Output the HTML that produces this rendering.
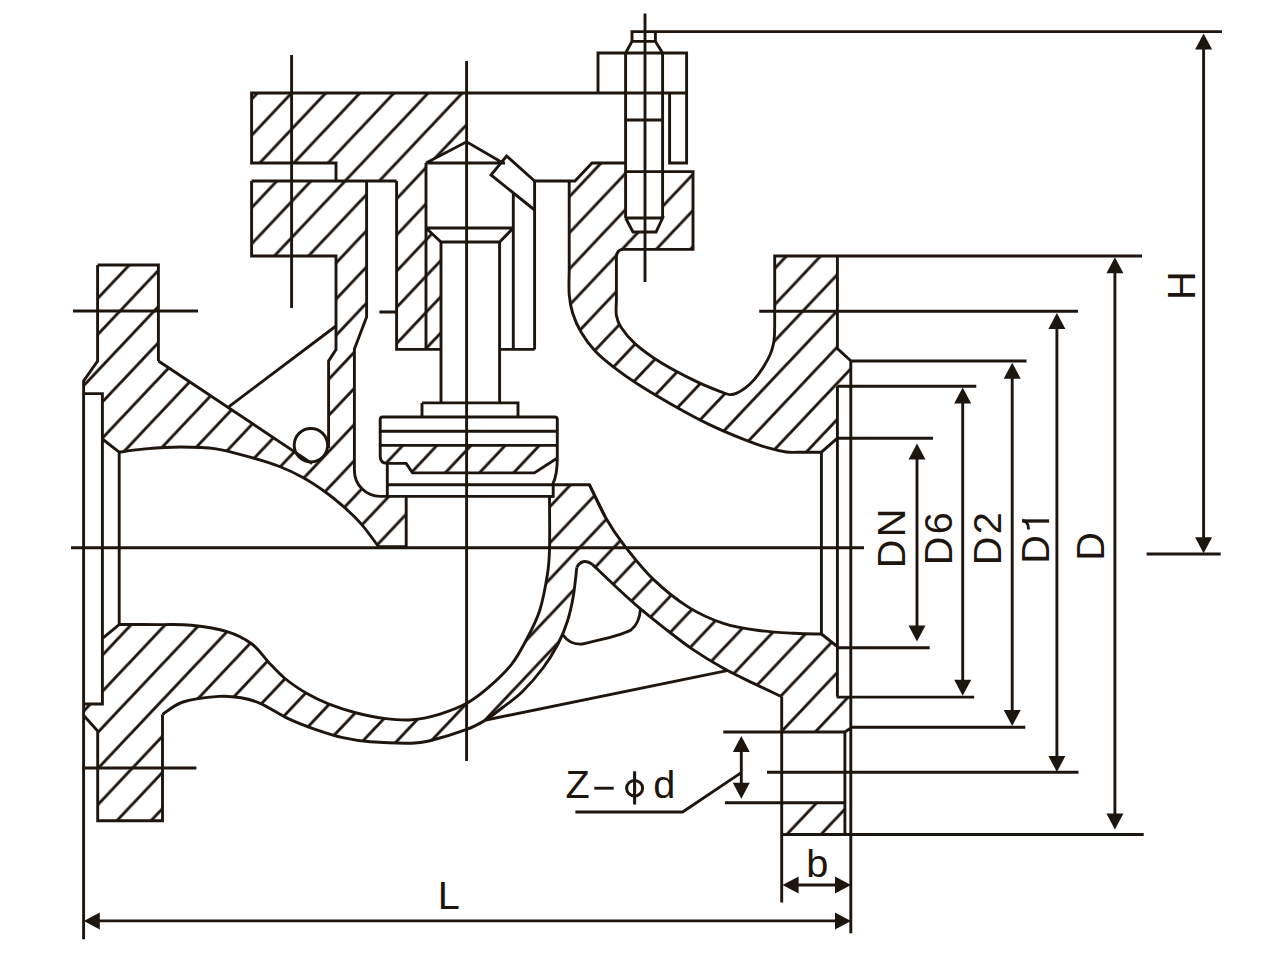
<!DOCTYPE html>
<html><head><meta charset="utf-8">
<style>
html,body{margin:0;padding:0;background:#fff;width:1271px;height:975px;overflow:hidden}
svg{display:block}
text{font-family:"Liberation Sans",sans-serif;fill:#1f150f}
</style></head><body>
<svg width="1271" height="975" viewBox="0 0 1271 975">
<defs>
<pattern id="hA" patternUnits="userSpaceOnUse" width="35.115" height="35.115" patternTransform="translate(3.837,0) rotate(-1.650)">
<path d="M-6,6 L6,-6 M-6,41.115 L41.115,-6 M29.115,41.115 L41.115,29.115" stroke="#1f150f" stroke-width="2.9" fill="none"/></pattern>
<pattern id="hB" patternUnits="userSpaceOnUse" width="35.115" height="35.115" patternTransform="translate(3.837,0) rotate(-1.650)">
<path d="M-6,6 L6,-6 M-6,41.115 L41.115,-6 M29.115,41.115 L41.115,29.115" stroke="#1f150f" stroke-width="2.9" fill="none"/></pattern>
<pattern id="hC" patternUnits="userSpaceOnUse" width="35.115" height="35.115" patternTransform="translate(3.837,0) rotate(-1.650)">
<path d="M-6,6 L6,-6 M-6,41.115 L41.115,-6 M29.115,41.115 L41.115,29.115" stroke="#1f150f" stroke-width="2.9" fill="none"/></pattern>
<pattern id="hD" patternUnits="userSpaceOnUse" width="35.115" height="35.115" patternTransform="translate(3.837,0) rotate(-1.650)">
<path d="M-6,6 L6,-6 M-6,41.115 L41.115,-6 M29.115,41.115 L41.115,29.115" stroke="#1f150f" stroke-width="2.9" fill="none"/></pattern>
<pattern id="hE" patternUnits="userSpaceOnUse" width="35.115" height="35.115" patternTransform="translate(3.837,0) rotate(-1.650)">
<path d="M-6,6 L6,-6 M-6,41.115 L41.115,-6 M29.115,41.115 L41.115,29.115" stroke="#1f150f" stroke-width="2.9" fill="none"/></pattern>
</defs>
<g stroke="none">
<path fill="url(#hA)" d="M251.6,93 L466.6,93 L466.6,141.8 L426,163 L426,228 L441,242 L441,349.4 L396.5,349.4 L396.5,181 L336,181 L336,163 L251.6,163 Z"/>
<path fill="url(#hB)" d="M251.6,181 L366.6,181 L366.6,317 L354.4,349 L354.4,470.4 A26,26 0 0 0 380.4,496.4 L406.2,496.4 L406.2,546.8 L378.6,546.8 C375.8,543.1 367.6,531.4 362.0,524.9 C356.4,518.4 350.9,513.2 344.7,507.7 C338.5,502.2 332.0,496.7 325.0,491.7 C318.0,486.7 310.5,481.7 302.9,477.5 C295.3,473.3 288.3,469.9 279.5,466.5 C270.7,463.1 260.6,460.1 250.0,457.2 C239.4,454.3 227.7,450.6 216.2,448.9 C204.7,447.2 192.6,447.0 180.8,447.0 C169.0,447.0 155.7,448.0 145.4,448.9 C135.1,449.8 123.6,451.6 119.2,452.2 L102.4,439 L102.4,393.6 L83.6,393.6 L83.6,381 L97.6,361 L97.6,265 L158.4,265 L158.4,361 L312.4,463.9 L328.6,448 L328.6,361 L336,349.6 L336,256 L251.6,256 Z"/>
<path fill="url(#hC)" d="M569.2,181 L575,181 L592,163 L625,163 L625,171.6 L693,171.6 L693,249.4 L623.4,249.4 Q616.4,249.4 616.4,258 L616.4,300 C616.4,302.6 615.6,310.9 616.4,315.5 C617.2,320.1 617.9,322.6 621.0,327.3 C624.1,332.0 628.5,337.9 635.2,343.8 C641.9,349.7 651.0,356.4 661.2,362.7 C671.4,369.0 686.5,376.7 696.6,381.6 C706.7,386.5 716.5,390.0 722.0,392.2 C727.5,394.4 727.3,394.4 729.7,394.6 C732.1,394.8 733.6,394.5 736.2,393.4 C738.8,392.3 742.3,390.3 745.4,387.9 C748.5,385.5 751.5,382.7 754.6,379.1 C757.7,375.5 761.3,370.4 763.9,366.2 C766.5,362.0 768.7,358.0 770.3,354.2 C771.9,350.4 772.9,346.5 773.6,343.1 C774.3,339.7 774.3,337.9 774.5,334.0 C774.7,330.1 774.7,322.3 774.7,320.0 L774.8,256 L837.4,256 L837.4,348.6 L851,361 L851,386.3 L837.4,386.3 L837.4,438.2 L821.4,452.2 L800,452.2 C797.7,452.2 791.7,452.8 786.3,452.0 C780.9,451.2 774.5,449.8 767.4,447.7 C760.3,445.6 753.6,443.3 743.8,439.4 C734.0,435.5 720.2,429.8 708.4,424.1 C696.6,418.4 684.8,411.9 673.0,405.2 C661.2,398.5 647.4,390.3 637.6,384.0 C627.8,377.7 621.1,372.9 614.0,367.4 C606.9,361.9 600.6,356.9 595.1,351.0 C589.6,345.1 584.7,338.3 581.0,332.0 C577.3,325.7 574.7,319.5 572.7,313.2 C570.7,306.9 569.8,301.5 569.2,294.3 C568.6,287.1 569.2,274.1 569.2,270.0 Z"/>
<path fill="url(#hD)" d="M119.0,624.5 C125.8,624.5 147.9,624.5 160.0,624.6 C172.1,624.7 180.1,624.1 191.3,625.3 C202.5,626.5 217.0,628.6 227.1,631.7 C237.2,634.8 245.0,639.0 251.9,644.0 C258.8,649.0 262.9,656.2 268.4,662.0 C273.9,667.8 278.6,673.2 285.0,678.5 C291.4,683.8 299.7,689.3 307.0,693.6 C314.3,697.9 320.7,700.9 329.0,704.1 C337.3,707.3 347.4,710.6 356.6,713.0 C365.8,715.4 374.8,717.3 384.0,718.4 C393.2,719.5 402.4,720.5 411.6,719.8 C420.8,719.1 430.0,717.0 439.2,714.3 C448.4,711.5 458.5,707.8 466.7,703.3 C474.9,698.8 481.0,693.9 488.5,687.4 C496.0,680.9 505.1,672.5 511.5,664.4 C517.9,656.3 522.2,647.7 526.9,638.7 C531.6,629.7 536.3,621.2 539.7,610.5 C543.1,599.8 545.8,584.7 547.4,574.6 C549.0,564.5 549.1,563.0 549.5,550.0 C549.9,537.0 549.5,505.3 549.5,496.4 L553.2,496.4 L553.2,484.6 L589.4,484.6 C592.1,490.0 599.6,507.1 605.4,517.2 C611.2,527.4 616.4,535.3 624.3,545.5 C632.2,555.7 642.0,568.4 652.6,578.6 C663.2,588.8 676.2,599.4 688.0,606.9 C699.8,614.4 711.6,619.5 723.4,623.4 C735.2,627.3 747.0,628.9 758.8,630.5 C770.6,632.1 783.7,632.7 794.2,633.3 C804.7,633.9 817.0,633.9 821.6,634.0 L836.6,646 L836.6,696.6 L850.8,696.6 L850.8,728 L844.9,732 L781.7,732 L781.7,696.6 C776.9,694.4 763.8,688.3 754.1,683.6 C744.4,678.9 733.6,674.0 723.4,668.3 C713.2,662.6 702.5,656.1 692.7,649.4 C682.9,642.7 673.0,634.8 664.4,628.1 C655.8,621.4 648.7,615.9 640.8,609.2 C632.9,602.5 625.3,595.5 617.2,588.0 C609.1,580.5 596.5,568.3 592.4,564.4 Q588,561 584.2,561.5 Q579,562.5 576.8,567.5 C576.2,572.1 575.0,586.1 573.5,595.0 C572.0,603.9 570.1,612.8 567.5,621.0 C564.9,629.2 562.1,636.2 558.0,644.0 C553.9,651.8 549.0,660.0 543.0,668.0 C537.0,676.0 528.8,685.3 522.0,692.0 C515.2,698.7 508.0,703.3 502.0,708.0 C496.0,712.7 488.7,718.0 486.0,720.0 C482.8,721.6 475.9,726.0 466.7,729.4 C457.5,732.8 440.1,738.2 430.9,740.5 C421.7,742.8 421.7,743.0 411.6,743.2 C401.5,743.4 381.8,742.7 370.3,741.8 C358.8,740.9 352.0,739.8 342.8,737.7 C333.6,735.6 324.4,732.6 315.2,729.4 C306.0,726.2 296.9,722.8 287.7,718.4 C278.5,714.0 268.0,706.7 260.2,703.3 C252.4,699.9 247.8,698.9 240.9,697.8 C234.0,696.6 228.6,695.7 218.9,696.4 C209.2,697.1 192.4,699.0 183.0,702.0 C173.6,705.0 165.9,712.4 162.5,714.5 L162.5,820.8 L97.7,820.8 L97.7,731 L83.3,715 L83.3,704 L102.5,704 L102.5,638.4 Z"/>
<path fill="url(#hD)" d="M781.7,802.7 L844.9,802.7 L844.9,834.5 L781.7,834.5 Z"/>
<path fill="url(#hE)" d="M380.2,445.4 L557.3,445.4 L557.3,458 L534.4,472.9 L412.5,472.9 L406.2,463.4 L387.3,463.4 Q380.2,463 380.2,456 Z"/>
<path fill="#fff" d="M625.6,171.6 H662.6 V218 L656,232 H633 L625.6,218 Z"/>
</g>
<g stroke="#1f150f" stroke-width="2.9" fill="none" stroke-linejoin="miter" stroke-miterlimit="4" stroke-linecap="butt">
<path d="M71,547.8 H864 M466.6,61 V761 M291.6,55 V308 M645,13.6 V282 M73,311 H198 M82,768 H196.4"/>
<path d="M686.6,93 H251.6 V163 H336 V181 M251.6,181 H396.6 M251.6,181 V256 H336 V349.6 L328.6,361 V448"/>
<path d="M366.6,181 V317 L354.4,349 V470.4 A26,26 0 0 0 380.4,496.4 H406.2 V546.8 H378.6 M379.4,312 H396.6"/>
<path d="M396.6,181 V349.4 H441 M426,163 V349.4 M426,163 H505 M426,163 L466.6,141.8 L503,163 M426,228 H513.3 M426,228 L441,242 H499.6 L513.3,228 M441,242 V403 M499.6,242 V403 M513.3,193 V349.4 M499.6,349.4 H534.6 M534.6,181 V349.4"/>
<path d="M534.6,210 L491,175 L506.6,156 L534.6,181"/>
<path d="M534.6,181 H575 L592,163 H625"/>
<path d="M569.2,181 V270 C569.2,274.1 568.6,287.1 569.2,294.3 C569.8,301.5 570.7,306.9 572.7,313.2 C574.7,319.5 577.3,325.7 581.0,332.0 C584.7,338.3 589.6,345.1 595.1,351.0 C600.6,356.9 606.9,361.9 614.0,367.4 C621.1,372.9 627.8,377.7 637.6,384.0 C647.4,390.3 661.2,398.5 673.0,405.2 C684.8,411.9 696.6,418.4 708.4,424.1 C720.2,429.8 734.0,435.5 743.8,439.4 C753.6,443.3 760.3,445.6 767.4,447.7 C774.5,449.8 780.9,451.2 786.3,452.0 C791.7,452.8 797.7,452.2 800.0,452.2 H821.4 L837.4,438.2"/>
<path d="M625,171.6 H693 V249.4 H623.4 Q616.4,249.4 616.4,258 V300 C616.4,302.6 615.6,310.9 616.4,315.5 C617.2,320.1 617.9,322.6 621.0,327.3 C624.1,332.0 628.5,337.9 635.2,343.8 C641.9,349.7 651.0,356.4 661.2,362.7 C671.4,369.0 686.5,376.7 696.6,381.6 C706.7,386.5 716.5,390.0 722.0,392.2 C727.5,394.4 727.3,394.4 729.7,394.6 C732.1,394.8 733.6,394.5 736.2,393.4 C738.8,392.3 742.3,390.3 745.4,387.9 C748.5,385.5 751.5,382.7 754.6,379.1 C757.7,375.5 761.3,370.4 763.9,366.2 C766.5,362.0 768.7,358.0 770.3,354.2 C771.9,350.4 772.9,346.5 773.6,343.1 C774.3,339.7 774.3,337.9 774.5,334.0 C774.7,330.1 774.7,322.3 774.7,320.0 V256 H1142"/>
<path d="M598,93 V53 H686.6 V93 M625.6,53 V218 M662.6,53 V218 M625.6,53 L632,41.4 V31.6 H655.4 V41.4 L662.6,53 M632,41.4 H655.4 M625.6,120 H662.6 M669.6,93 V163 H686.6 V93 M625.6,218 H662.6 L656,232 H633 L625.6,218 M655.4,31.6 H1222"/>
<path d="M837.4,256 V348.6 L851,361 M850.8,361 V933.3 M851,361 H1026.5 M837.4,386.3 H976.3 M837.4,386.3 V696.6 M821.4,452.2 V634 L836.6,646 M837.4,438.2 H933 M836.6,647.8 H929.7 M836.6,697.1 H974.2 M850.8,727.3 H1025.3 M850.8,728 L844.9,732 V835 M723.3,732 H844.9 M724.9,802.7 H844.9 M781.7,696.6 V902.6 M781.7,834.5 H1143.7 M759.2,311.3 H1078 M767,772.3 H1078.5"/>
<path d="M589.4,484.6 C592.1,490.0 599.6,507.1 605.4,517.2 C611.2,527.4 616.4,535.3 624.3,545.5 C632.2,555.7 642.0,568.4 652.6,578.6 C663.2,588.8 676.2,599.4 688.0,606.9 C699.8,614.4 711.6,619.5 723.4,623.4 C735.2,627.3 747.0,628.9 758.8,630.5 C770.6,632.1 783.7,632.7 794.2,633.3 C804.7,633.9 817.0,633.9 821.6,634.0"/>
<path d="M592.4,564.4 C596.5,568.3 609.1,580.5 617.2,588.0 C625.3,595.5 632.9,602.5 640.8,609.2 C648.7,615.9 655.8,621.4 664.4,628.1 C673.0,634.8 682.9,642.7 692.7,649.4 C702.5,656.1 713.2,662.6 723.4,668.3 C733.6,674.0 744.4,678.9 754.1,683.6 C763.8,688.3 776.9,694.4 781.5,696.6"/>
<path d="M576.8,567.5 Q579,562.5 584.2,561.5 Q588,561 592.4,564.4 M640.5,609 C640,617 637,625 631,630 C620,636 600,640 582,644 Q570,645 563,635"/>
<path d="M576.8,567.5 C576.2,572.1 575.0,586.1 573.5,595.0 C572.0,603.9 570.1,612.8 567.5,621.0 C564.9,629.2 562.1,636.2 558.0,644.0 C553.9,651.8 549.0,660.0 543.0,668.0 C537.0,676.0 528.8,685.3 522.0,692.0 C515.2,698.7 508.0,703.3 502.0,708.0 C496.0,712.7 488.7,718.0 486.0,720.0"/>
<path d="M119.0,624.5 C125.8,624.5 147.9,624.5 160.0,624.6 C172.1,624.7 180.1,624.1 191.3,625.3 C202.5,626.5 217.0,628.6 227.1,631.7 C237.2,634.8 245.0,639.0 251.9,644.0 C258.8,649.0 262.9,656.2 268.4,662.0 C273.9,667.8 278.6,673.2 285.0,678.5 C291.4,683.8 299.7,689.3 307.0,693.6 C314.3,697.9 320.7,700.9 329.0,704.1 C337.3,707.3 347.4,710.6 356.6,713.0 C365.8,715.4 374.8,717.3 384.0,718.4 C393.2,719.5 402.4,720.5 411.6,719.8 C420.8,719.1 430.0,717.0 439.2,714.3 C448.4,711.5 458.5,707.8 466.7,703.3 C474.9,698.8 481.0,693.9 488.5,687.4 C496.0,680.9 505.1,672.5 511.5,664.4 C517.9,656.3 522.2,647.7 526.9,638.7 C531.6,629.7 536.3,621.2 539.7,610.5 C543.1,599.8 545.8,584.7 547.4,574.6 C549.0,564.5 549.1,563.0 549.5,550.0 C549.9,537.0 549.5,505.3 549.5,496.4 H553.2 V484.6"/>
<path d="M162.5,714.5 C165.9,712.4 173.6,705.0 183.0,702.0 C192.4,699.0 209.2,697.1 218.9,696.4 C228.6,695.7 234.0,696.6 240.9,697.8 C247.8,698.9 252.4,699.9 260.2,703.3 C268.0,706.7 278.5,714.0 287.7,718.4 C296.9,722.8 306.0,726.2 315.2,729.4 C324.4,732.6 333.6,735.6 342.8,737.7 C352.0,739.8 358.8,740.9 370.3,741.8 C381.8,742.7 401.5,743.4 411.6,743.2 C421.7,743.0 421.7,742.8 430.9,740.5 C440.1,738.2 457.5,732.8 466.7,729.4 C475.9,726.0 482.8,721.6 486.0,720.0 M162.5,714.5 V820.8 H97.7 V731 L83.3,715"/>
<path d="M486,720 L727,670.6 M229,406.6 L336,326"/>
<path d="M97.6,265 H158.4 V361 M97.6,265 V361 L83.6,381 V939.3 M83.6,393.6 H102.4 V704 H83.6 M102.4,439 L119.2,452.2 V624.5 L102.5,638.4"/>
<path d="M119.2,452.2 C123.6,451.6 135.1,449.8 145.4,448.9 C155.7,448.0 169.0,447.0 180.8,447.0 C192.6,447.0 204.7,447.2 216.2,448.9 C227.7,450.6 239.4,454.3 250.0,457.2 C260.6,460.1 270.7,463.1 279.5,466.5 C288.3,469.9 295.3,473.3 302.9,477.5 C310.5,481.7 318.0,486.7 325.0,491.7 C332.0,496.7 338.5,502.2 344.7,507.7 C350.9,513.2 356.4,518.4 362.0,524.9 C367.6,531.4 375.8,543.1 378.6,546.8"/>
<path d="M422,402.9 H518 V417 M422,402.9 V417"/>
<path d="M382.7,417 H554.8 Q557.3,417 557.3,419.5 V458 C557.3,470 556,478 552.5,484.7 M382.7,417 Q380.2,417 380.2,419.5 V456 Q380.2,463.4 387.3,463.4 H406.2 L412.5,472.9 H534.4 L557.3,458 M380.2,431.2 H557.3 M380.2,445.4 H557.3"/>
<path d="M387.3,463.4 V496.4 M387.3,484.7 H589.4 L605.4,517.2 M406.2,496.4 H553.2"/>
<path d="M1203.6,40 V546"/>
<path d="M1146.6,554 H1220.7"/>
<path d="M1114.9,265.3 V821.6"/>
<path d="M1056.9,321.0 V764.0"/>
<path d="M1012.2,370.7 V717.9"/>
<path d="M962.7,395.5 V687.7"/>
<path d="M917.0,451.6 V633.5"/>
<path d="M790,885 H844"/>
<path d="M92,920.9 H843"/>
<path d="M741.3,744 V790 M741.3,772.6 L682.6,812 H575.4"/>
</g>
<circle cx="310.9" cy="445.2" r="16.7" fill="#fff" stroke="#1f150f" stroke-width="2.9"/>
<path d="M158.4,361 L312.2,463.6" stroke="#1f150f" stroke-width="2.9" fill="none"/>
<g>
<path d="M1203.6,33.4 L1195.1,49.4 L1212.1,49.4 Z" fill="#1f150f"/>
<path d="M1203.6,553.3 L1195.1,537.3 L1212.1,537.3 Z" fill="#1f150f"/>
<path d="M1114.9,257.3 L1106.4,273.3 L1123.4,273.3 Z" fill="#1f150f"/>
<path d="M1114.9,829.6 L1106.4,813.6 L1123.4,813.6 Z" fill="#1f150f"/>
<path d="M1056.9,313.0 L1048.4,329.0 L1065.4,329.0 Z" fill="#1f150f"/>
<path d="M1056.9,772.0 L1048.4,756.0 L1065.4,756.0 Z" fill="#1f150f"/>
<path d="M1012.2,362.7 L1003.7,378.7 L1020.7,378.7 Z" fill="#1f150f"/>
<path d="M1012.2,725.9 L1003.7,709.9 L1020.7,709.9 Z" fill="#1f150f"/>
<path d="M962.7,387.5 L954.2,403.5 L971.2,403.5 Z" fill="#1f150f"/>
<path d="M962.7,695.7 L954.2,679.7 L971.2,679.7 Z" fill="#1f150f"/>
<path d="M917.0,443.6 L908.5,459.6 L925.5,459.6 Z" fill="#1f150f"/>
<path d="M917.0,641.5 L908.5,625.5 L925.5,625.5 Z" fill="#1f150f"/>
<path d="M782.6,885.0 L798.6,876.5 L798.6,893.5 Z" fill="#1f150f"/>
<path d="M851.0,885.0 L835.0,876.5 L835.0,893.5 Z" fill="#1f150f"/>
<path d="M83.8,920.9 L99.8,912.4 L99.8,929.4 Z" fill="#1f150f"/>
<path d="M851.0,920.9 L835.0,912.4 L835.0,929.4 Z" fill="#1f150f"/>
<path d="M741.3,735.9 L732.8,751.9 L749.8,751.9 Z" fill="#1f150f"/>
<path d="M741.3,798.7 L732.8,782.7 L749.8,782.7 Z" fill="#1f150f"/>
</g>

<g font-size="39.7" letter-spacing="2.4">
<text transform="translate(1195,300) rotate(-90)">H</text>
<text transform="translate(1103.9,560.8) rotate(-90)">D</text>
<text transform="translate(1049.4,563.8) rotate(-90)">D</text>
<text transform="translate(1001.2,565.2) rotate(-90)">D2</text>
<text transform="translate(952.2,565.2) rotate(-90)">D6</text>
<text transform="translate(905.2,568.2) rotate(-90)">DN</text>
</g>
<path d="M1022.1,521 H1049.1" stroke="#1f150f" stroke-width="3.3" fill="none"/><path d="M1022.3,520.2 C1026,521 1028.6,523 1028.6,529.4" stroke="#1f150f" stroke-width="2.8" fill="none"/>
<g font-size="39.7">
<text x="437.7" y="909.2">L</text>
<text x="806.2" y="877">b</text>
<text x="565.6" y="797.6">Z</text>
<text x="653.2" y="797.6">d</text>
</g>
<path d="M594.3,788.2 H613.7" stroke="#1f150f" stroke-width="2.9"/>
<ellipse cx="634.6" cy="788.2" rx="8" ry="7.7" stroke="#1f150f" stroke-width="3" fill="none"/>
<path d="M634.6,771.3 V804.5" stroke="#1f150f" stroke-width="3.1"/>

</svg>
</body></html>
